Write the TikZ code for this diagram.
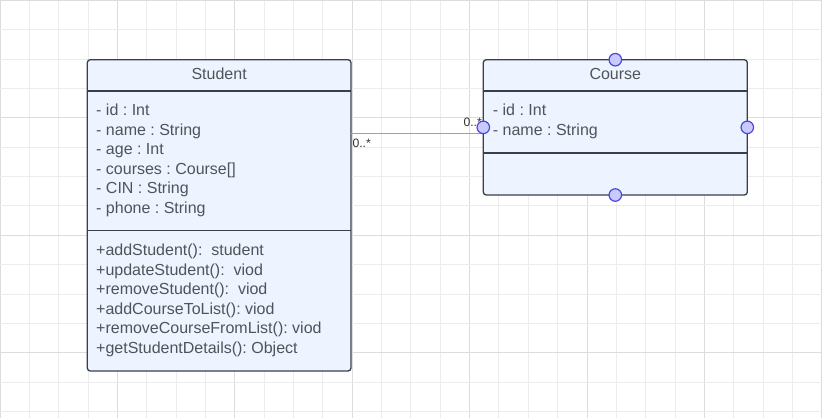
\documentclass[tikz,border=0pt]{standalone}
\usepackage{fontspec}
\setmainfont{Liberation Sans}
\usetikzlibrary{calc}
\frenchspacing
\definecolor{gridminor}{RGB}{236,236,236}
\definecolor{gridmajor}{RGB}{220,220,220}
\definecolor{boxfill}{RGB}{237,244,255}
\definecolor{boxline}{RGB}{58,64,72}
\definecolor{txt}{RGB}{80,84,90}
\definecolor{handlefill}{RGB}{202,202,250}
\definecolor{handleline}{RGB}{72,72,222}
\definecolor{wire}{RGB}{160,160,160}
\tikzset{
  classbox/.style={draw=boxline, fill=boxfill, line width=1.3pt, rounded corners=3pt,
    rectangle, inner sep=0pt, outer sep=0pt},
  divider/.style={draw=boxline, line width=1.8pt},
  member/.style={anchor=base west, inner sep=0pt, text=txt, font=\fontsize{16}{19}\selectfont},
  title/.style={anchor=base, inner sep=0pt, text=txt, font=\fontsize{16}{19}\selectfont},
  mult/.style={anchor=base west, inner sep=0pt, text=black!80, font=\fontsize{12.2}{14}\selectfont},
  handle/.style={circle, draw=handleline, fill=handlefill, line width=1.2pt,
    minimum size=12.5pt, inner sep=0pt},
  link/.style={draw=wire, line width=1.4pt}
}
\begin{document}
\begin{tikzpicture}[x=1pt,y=-1pt]
\useasboundingbox (0,0) rectangle (822,418);
\fill[white] (0,0) rectangle (822,418);
% background grid
\foreach \i in {0,...,28}{
  \pgfmathtruncatemacro{\maj}{mod(\i,4)==0}
  \ifnum\maj=1 \def\gc{gridmajor}\else\def\gc{gridminor}\fi
  \draw[\gc, line width=1pt] (\i*29.35,0) -- (\i*29.35,418);
}
\foreach \k in {0,...,14}{
  \pgfmathtruncatemacro{\maj}{mod(\k,4)==0}
  \ifnum\maj=1 \def\gc{gridmajor}\else\def\gc{gridminor}\fi
  \draw[\gc, line width=1pt] (0,0.5+\k*29.35) -- (822,0.5+\k*29.35);
}

% Student class
\node[classbox, minimum width=263.7pt, minimum height=311.3pt] (student) at (219.15,215.35) {};
\draw[divider] (student.west |- 0,91) -- (student.east |- 0,91);
\draw[divider] (student.west |- 0,230.5) -- (student.east |- 0,230.5);
\node[title] (stitle) at (219.15,79.3) {Student};
\node[member] (sa1) at (96,115.7) {- id : Int};
\node[member] (sa2) at (96,135.2) {- name : String};
\node[member] (sa3) at (96,154.7) {- age : Int};
\node[member] (sa4) at (96,174.2) {- courses : Course[]};
\node[member] (sa5) at (96,193.7) {- CIN : String};
\node[member] (sa6) at (96,213.2) {- phone : String};
\node[member] (sm1) at (96,255.7) {+addStudent():~ student};
\node[member] (sm2) at (96,275.2) {+updateStudent():~ viod};
\node[member] (sm3) at (96,294.7) {+removeStudent():~ viod};
\node[member] (sm4) at (96,314.2) {+addCourseToList(): viod};
\node[member] (sm5) at (96,333.7) {+removeCourseFromList(): viod};
\node[member] (sm6) at (96,353.2) {+getStudentDetails(): Object};

% Course class
\node[classbox, minimum width=264pt, minimum height=135.3pt] (course) at (615.3,127.35) {};
\draw[divider] (course.west |- 0,91) -- (course.east |- 0,91);
\draw[divider] (course.west |- 0,152.7) -- (course.east |- 0,152.7);
\node[title] (ctitle) at (615.3,79.3) {Course};
\node[member] (ca1) at (492.7,115.7) {- id : Int};
\node[member] (ca2) at (492.7,135.7) {- name : String};

% association
\coordinate (send) at (student.east |- 0,133.6);
\draw[link] (send) -- (send -| course.west);
\node[mult] (m1) at (352.3,147.3) {0..*};
\node[mult] (m2) at (463.3,126) {0..*};

% connection handles
\node[handle] (hn) at (course.north) {};
\node[handle] (hs) at (course.south) {};
\node[handle] (hw) at (course.west) {};
\node[handle] (he) at (course.east) {};
\end{tikzpicture}
\end{document}
